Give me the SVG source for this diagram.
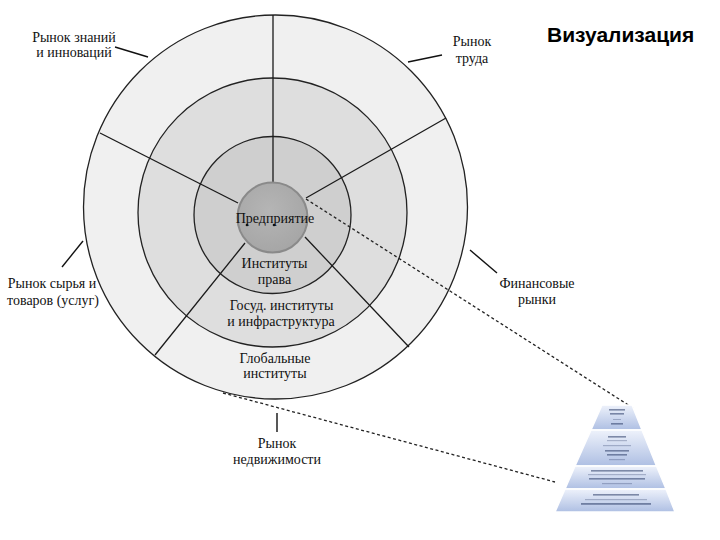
<svg xmlns="http://www.w3.org/2000/svg" width="720" height="540" viewBox="0 0 720 540">
<defs>
<style>
.ring{stroke:#222;stroke-width:1.3}
.div{stroke:#1a1a1a;stroke-width:1.3;fill:none}
.dash{stroke:#222;stroke-width:1.3;stroke-dasharray:3 2.5;fill:none}
.lead{stroke:#111;stroke-width:1.4;fill:none}
.lbl{font-family:"Liberation Serif","DejaVu Serif",serif;font-size:14px;fill:#111;text-anchor:middle}
.title{font-family:"Liberation Sans",Arial,sans-serif;font-size:21px;font-weight:bold;fill:#000}
.bar{fill:#2a3a66;opacity:0.55}
.barl{fill:#2a3a66;opacity:0.3}
.tier{stroke:#fff;stroke-width:1.5}
</style>
<linearGradient id="tg" x1="0" y1="0" x2="0" y2="1">
<stop offset="0" stop-color="#eef2fb"/>
<stop offset="1" stop-color="#aebfe3"/>
</linearGradient>
<radialGradient id="ig" cx="0.45" cy="0.4" r="0.6">
<stop offset="0" stop-color="#b5b5b5"/>
<stop offset="1" stop-color="#a6a6a6"/>
</radialGradient>
</defs>
<rect width="720" height="540" fill="#fff"/>

<g id="ring-global">
<circle class="ring" cx="275.5" cy="207" r="192" fill="#f0f0f0"/>
</g>
<g id="ring-gov">
<circle class="ring" cx="272.5" cy="212.5" r="134.5" fill="#dedede"/>
</g>
<g id="ring-law">
<circle class="ring" cx="272.5" cy="215" r="78.5" fill="#cfcfcf"/>
</g>

<g id="connectors">
<line class="div" x1="273" y1="15" x2="273" y2="182"/>
<line class="div" x1="100" y1="133" x2="238" y2="203"/>
<line class="div" x1="446" y1="118" x2="306" y2="198"/>
<line class="div" x1="155" y1="355" x2="245" y2="243"/>
<line class="div" x1="409" y1="347" x2="305" y2="237"/>
<line class="dash" x1="306" y1="199" x2="633" y2="408"/>
<line class="dash" x1="223" y1="393" x2="555" y2="482"/>
<line class="lead" x1="115" y1="47" x2="148" y2="57"/>
<line class="lead" x1="408" y1="62" x2="442" y2="55"/>
<line class="lead" x1="83" y1="241" x2="62" y2="267"/>
<line class="lead" x1="470" y1="250" x2="497" y2="273"/>
<line class="lead" x1="277" y1="413" x2="277" y2="432"/>
</g>

<g id="enterprise">
<circle cx="272.5" cy="217.5" r="35" fill="url(#ig)" stroke="#8a8a8a" stroke-width="2"/>
<text class="lbl" x="275" y="223">Предприятие</text>
<circle cx="247" cy="225" r="1.3" fill="#111"/>
<circle cx="274" cy="225" r="1.3" fill="#111"/>
</g>

<g id="law-label">
<text class="lbl" x="274.5" y="268">Институты</text>
<text class="lbl" x="274.5" y="284">права</text>
</g>
<g id="gov-label">
<text class="lbl" x="281.5" y="310">Госуд. институты</text>
<text class="lbl" x="281" y="326">и инфраструктура</text>
</g>
<g id="global-label">
<text class="lbl" x="275" y="363">Глобальные</text>
<text class="lbl" x="275" y="378">институты</text>
</g>

<g id="market-knowledge">
<text class="lbl" x="74" y="42">Рынок знаний</text>
<text class="lbl" x="74" y="57">и инноваций</text>
</g>
<g id="market-labor">
<text class="lbl" x="472" y="46">Рынок</text>
<text class="lbl" x="472" y="63">труда</text>
</g>
<g id="market-goods">
<text class="lbl" x="52" y="288">Рынок сырья и</text>
<text class="lbl" x="53" y="305">товаров (услуг)</text>
</g>
<g id="market-finance">
<text class="lbl" x="537" y="288">Финансовые</text>
<text class="lbl" x="537" y="304">рынки</text>
</g>
<g id="market-realty">
<text class="lbl" x="277" y="448">Рынок</text>
<text class="lbl" x="277" y="464">недвижимости</text>
</g>

<g id="title">
<text class="title" x="547" y="42">Визуализация</text>
</g>

<g id="pyramid">
<polygon class="tier" points="602,405 632,405 642,430 591,430" fill="url(#tg)"/>
<polygon class="tier" points="591,430 642,430 656.5,466 575,466" fill="url(#tg)"/>
<polygon class="tier" points="575,466 656.5,466 666,489 565,489" fill="url(#tg)"/>
<polygon class="tier" points="565,489 666,489 675,512 555,512" fill="url(#tg)"/>
<rect class="bar" x="609" y="409" width="16" height="1.6"/>
<rect class="bar" x="610" y="413" width="14" height="1.6"/>
<rect class="barl" x="613" y="419" width="8" height="1"/>
<rect class="bar" x="611" y="423" width="12" height="1.6"/>
<rect class="bar" x="608" y="436" width="18" height="1.6"/>
<rect class="barl" x="607" y="440" width="20" height="1.2"/>
<rect class="barl" x="603" y="445" width="28" height="1.2"/>
<rect class="bar" x="605" y="450" width="24" height="1.6"/>
<rect class="bar" x="607" y="454" width="20" height="1.6"/>
<rect class="barl" x="609" y="459" width="16" height="1.2"/>
<rect class="bar" x="591" y="470" width="52" height="1.6"/>
<rect class="barl" x="588" y="474" width="58" height="1.2"/>
<rect class="bar" x="589" y="478" width="56" height="1.6"/>
<rect class="barl" x="602" y="483" width="30" height="1.2"/>
<rect class="bar" x="593" y="494" width="46" height="1.6"/>
<rect class="barl" x="585" y="499" width="62" height="1.2"/>
<rect class="bar" x="581" y="503" width="70" height="1.8"/>
</g>
</svg>
